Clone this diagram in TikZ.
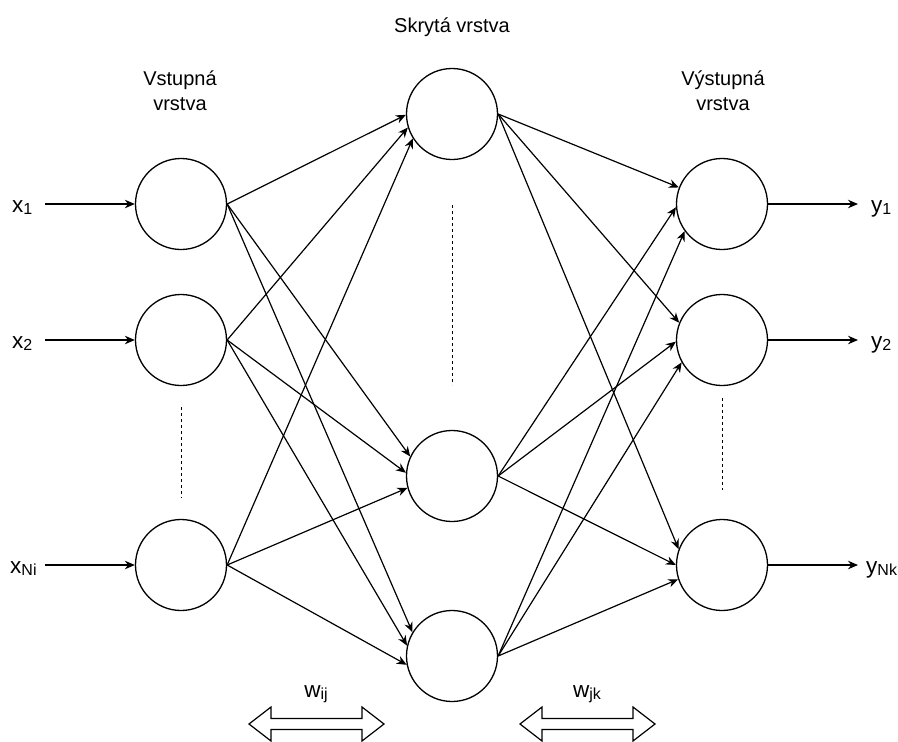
\documentclass[tikz,border=0pt]{standalone}
\usepackage{fontspec}
\setmainfont{Liberation Sans}
\usetikzlibrary{arrows.meta}
\newcommand\lowsub[1]{\raisebox{-2pt}{\fontsize{16}{16}\selectfont #1}}
\begin{document}
\begin{tikzpicture}[x=1pt,y=-1pt,
  neuron/.style={circle,draw,line width=1.3pt,minimum size=91pt,inner sep=0pt},
  conn/.style={line width=1.2pt,-{Stealth[length=10pt,width=8.5pt]}},
  lbl/.style={font=\fontsize{20}{25}\selectfont,inner sep=0pt},
  var/.style={font=\fontsize{22.5}{25}\selectfont,inner sep=0pt},
  dots/.style={line width=1pt,dash pattern=on 3pt off 3pt},
  dbl/.style={line width=1.2pt,fill=white}]
\useasboundingbox (0,0) rectangle (898,742);

% neurons
\node[neuron] (i1) at (181,204) {};
\node[neuron] (i2) at (181,340) {};
\node[neuron] (i3) at (181,565) {};
\node[neuron] (h1) at (452,114) {};
\node[neuron] (h2) at (452,476) {};
\node[neuron] (h3) at (452,656) {};
\node[neuron] (o1) at (722,204) {};
\node[neuron] (o2) at (722,340) {};
\node[neuron] (o3) at (722,565) {};

% input -> hidden
\draw[conn] (i1.east) -- (h1.181);
\draw[conn] (i1.east) -- (h2.155);
\draw[conn] (i1.east) -- (h3.149);
\draw[conn] (i2.east) -- (h1.197);
\draw[conn] (i2.east) -- (h2.176);
\draw[conn] (i2.east) -- (h3.167);
\draw[conn] (i3.east) -- (h1.212);
\draw[conn] (i3.east) -- (h2.195);
\draw[conn] (i3.east) -- (h3.191);

% hidden -> output
\draw[conn] (h1.east) -- (o1.159);
\draw[conn] (h1.east) -- (o2.158);
\draw[conn] (h1.east) -- (o3.160);
\draw[conn] (h2.east) -- (o1.184);
\draw[conn] (h2.east) -- (o2.182);
\draw[conn] (h2.east) -- (o3.180);
\draw[conn] (h3.east) -- (o1.216);
\draw[conn] (h3.east) -- (o2.209);
\draw[conn] (h3.east) -- (o3.198);

% inputs
\coordinate (s1) at (45,204);
\coordinate (s2) at (45,340);
\coordinate (s3) at (45,565);
\draw[conn] (s1) -- (i1.west);
\draw[conn] (s2) -- (i2.west);
\draw[conn] (s3) -- (i3.west);

% outputs
\coordinate (t1) at (858,204);
\coordinate (t2) at (858,340);
\coordinate (t3) at (858,565);
\draw[conn] (o1.east) -- (t1);
\draw[conn] (o2.east) -- (t2);
\draw[conn] (o3.east) -- (t3);

% labels
\node[var,anchor=base west] (lx1) at (12,212) {x\lowsub{1}};
\node[var,anchor=base west] (lx2) at (12,348) {x\lowsub{2}};
\node[var,anchor=base west] (lx3) at (10,573) {x\lowsub{Ni}};
\node[var,anchor=base west] (ly1) at (871,212) {y\lowsub{1}};
\node[var,anchor=base west] (ly2) at (871,348) {y\lowsub{2}};
\node[var,anchor=base west] (ly3) at (866,573) {y\lowsub{Nk}};

\node[lbl,anchor=base,align=center] (lin) at (180,110) {Vstupná\\vrstva};
\node[lbl,anchor=base,align=center] (lout) at (723,110) {Výstupná\\vrstva};
\node[lbl,anchor=base] (lhid) at (452,32) {Skrytá vrstva};

\node[var,anchor=base] (wij) at (316,697) {w\lowsub{ij}};
\node[var,anchor=base] (wjk) at (587,697) {w\lowsub{jk}};

% dotted separators
\draw[dots] (181,407) -- (181,498);
\draw[dots] (452,205) -- (452,385);
\draw[dots] (722,398) -- (722,490);

% double arrows
\draw[dbl] (249,724) -- (271,707) -- (271,718.5) -- (362,718.5) -- (362,707) -- (384,724) -- (362,741) -- (362,729.5) -- (271,729.5) -- (271,741) -- cycle;
\draw[dbl] (520,724) -- (542,707) -- (542,718.5) -- (633,718.5) -- (633,707) -- (655,724) -- (633,741) -- (633,729.5) -- (542,729.5) -- (542,741) -- cycle;
\end{tikzpicture}
\end{document}
